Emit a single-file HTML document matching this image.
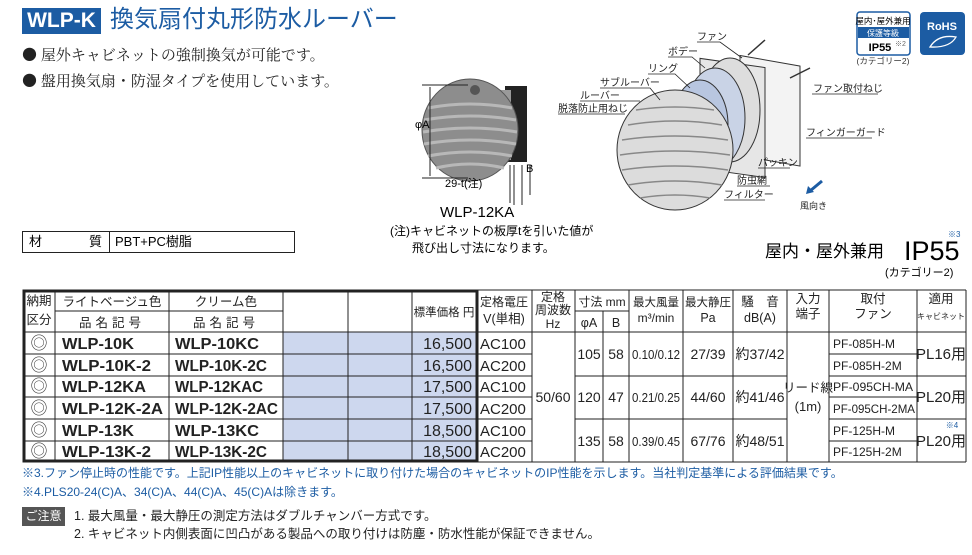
<!DOCTYPE html>
<html><head><meta charset="utf-8"><style>
html,body{margin:0;padding:0;background:#fff;}
body{width:972px;height:555px;position:relative;overflow:hidden;font-family:"Liberation Sans","Noto Sans CJK JP",sans-serif;}
.a{position:absolute;white-space:nowrap;}
</style></head><body>
<div class="a" style="left:22px;top:8px;width:79px;height:26px;background:#1c5ca3;color:#fff;font:bold 21px 'Liberation Sans',sans-serif;line-height:26px;text-align:center;">WLP-K</div>
<div class="a" style="left:110px;top:4px;color:#1c5ca3;font-size:24px;line-height:32px;font-family:'Liberation Sans','Noto Sans CJK JP',sans-serif;">換気扇付丸形防水ルーバー</div>
<div class="a" style="left:22px;top:44px;font-size:15px;line-height:22px;font-family:'Noto Serif CJK SC','Noto Serif CJK JP',serif;color:#222;">● 屋外キャビネットの強制換気が可能です。</div>
<div class="a" style="left:22px;top:70px;font-size:15px;line-height:22px;font-family:'Noto Serif CJK SC','Noto Serif CJK JP',serif;color:#222;">● 盤用換気扇・防湿タイプを使用しています。</div>

<div class="a" style="left:22px;top:231px;width:271px;height:20px;border:1px solid #222;font-size:13px;line-height:20px;">
<span style="position:absolute;left:6px;">材</span><span style="position:absolute;left:66px;">質</span>
<span style="position:absolute;left:86px;top:0;bottom:0;border-left:1px solid #222;padding-left:5px;">PBT+PC樹脂</span></div>

<svg class="a" style="left:0;top:0" width="972" height="290" viewBox="0 0 972 290">
<rect x="505" y="86" width="22" height="76" fill="#222"/>
<rect x="495" y="90" width="16" height="70" fill="#9a9a9a"/>
<ellipse cx="470" cy="130" rx="48" ry="51" fill="#8d8d8d" stroke="#555"/>
<g stroke="#b8b8b8" stroke-width="3" fill="none">
<path d="M428 108 Q470 100 512 108"/><path d="M424 120 Q470 112 516 120"/><path d="M423 132 Q470 124 517 132"/><path d="M424 144 Q470 136 516 144"/><path d="M428 156 Q470 148 512 156"/><path d="M436 168 Q470 160 504 168"/></g>
<circle cx="475" cy="90" r="5" fill="#555"/>
<g stroke="#222" stroke-width="1" fill="none"><path d="M422 85 H468 M422 178 H468 M430 87 V176"/><path d="M510 165 V203 M514 165 V205 M522 165 V205 M530 165 V195"/></g>
<text x="415" y="128" font-size="11">φA</text>
<text x="445" y="187" font-size="11">29-t(注)</text>
<text x="526" y="172" font-size="11">B</text>
<text x="440" y="217" font-size="15">WLP-12KA</text>
<text x="390" y="235" font-size="12">(注)キャビネットの板厚tを引いた値が</text>
<text x="412" y="252" font-size="12">飛び出し寸法になります。</text>
<g stroke="#333" fill="#eee">
<rect x="740" y="55" width="60" height="100" fill="#f3f3f3" transform="skewY(10) translate(0,-130)"/>
<rect x="700" y="60" width="65" height="110" fill="#e6e6e6" transform="skewY(8) translate(0,-100)"/>
<ellipse cx="730" cy="110" rx="30" ry="52" fill="#ddd"/>
<ellipse cx="715" cy="118" rx="30" ry="50" fill="#c9d3e6"/>
<ellipse cx="700" cy="125" rx="28" ry="45" fill="#b8c6e0"/>
<ellipse cx="675" cy="150" rx="58" ry="60" fill="#dcdcdc"/>
</g>
<g stroke="#888" stroke-width="1.5" fill="none">
<path d="M628 125 Q675 117 722 125"/><path d="M622 140 Q675 132 728 140"/><path d="M620 155 Q675 147 730 155"/><path d="M622 170 Q675 162 728 170"/><path d="M628 185 Q675 177 722 185"/><path d="M640 198 Q675 192 710 198"/><path d="M636 110 Q675 104 714 110"/></g>
<g stroke="#333" stroke-width="1.5"><line x1="748" y1="55" x2="765" y2="40"/><line x1="790" y1="78" x2="810" y2="68"/></g>
<g font-size="10" fill="#222">
<text x="697" y="40">ファン</text><text x="668" y="55">ボデー</text><text x="648" y="72">リング</text>
<text x="600" y="86">サブルーバー</text><text x="580" y="99">ルーバー</text><text x="558" y="112">脱落防止用ねじ</text>
<text x="813" y="92">ファン取付ねじ</text><text x="806" y="136">フィンガーガード</text>
<text x="758" y="166">パッキン</text><text x="737" y="184">防虫網</text><text x="724" y="198">フィルター</text>
<text x="800" y="209" font-size="9">風向き</text></g>
<g stroke="#222" fill="none" stroke-width="0.8"><path d="M697 42 H720 L742 58 M668 57 H692 L705 68 M648 74 H675 L690 88 M600 88 H650 L660 100 M580 101 H640 M558 114 H625 M812 94 H878 M806 138 H872 M758 168 H790 M737 186 H770 M724 200 H765"/></g>
<path d="M822 181 L810 191" stroke="#1c5ca3" stroke-width="3"/><path d="M806 194 L808 186 L814 192 Z" fill="#1c5ca3"/>
<rect x="857" y="12" width="53" height="43" rx="3" fill="#fff" stroke="#1c5ca3" stroke-width="1.5"/>
<rect x="858" y="27" width="51" height="11" fill="#1c5ca3"/>
<text x="883" y="24" font-size="8.5" text-anchor="middle">屋内･屋外兼用</text>
<text x="883" y="36" font-size="8" fill="#fff" text-anchor="middle">保護等級</text>
<text x="880" y="51" font-size="11" font-weight="bold" text-anchor="middle">IP55</text>
<text x="895" y="46" font-size="7" fill="#666">※2</text>
<text x="883" y="64" font-size="8.5" fill="#333" text-anchor="middle">(カテゴリー2)</text>
<rect x="920" y="12" width="45" height="43" rx="4" fill="#1c5ca3"/>
<text x="942" y="30" font-size="11" font-weight="bold" fill="#fff" text-anchor="middle">RoHS</text>
<path d="M930 47 Q938 34 956 37 Q950 48 930 47 Z" fill="none" stroke="#fff" stroke-width="1.3"/>
<text x="765" y="257" font-size="17">屋内・屋外兼用</text>
<text x="904" y="260" font-size="27">IP55</text>
<text x="948" y="237" font-size="8" fill="#1c5ca3">※3</text>
<text x="885" y="276" font-size="11">(カテゴリー2)</text>
</svg>

<svg class="a" style="left:0;top:280px" width="972" height="190" viewBox="0 280 972 190">
<rect x="283" y="332" width="194" height="130" fill="#cdd7ee"/>
<g stroke="#222" stroke-width="1" fill="none">
<line x1="478" y1="290" x2="966" y2="290"/><line x1="478" y1="462" x2="966" y2="462"/>
<line x1="966" y1="290" x2="966" y2="462"/>
<line x1="55" y1="311" x2="283" y2="311"/><line x1="23" y1="332" x2="966" y2="332"/>
<line x1="575" y1="311" x2="629" y2="311"/>
<line x1="23" y1="354" x2="477" y2="354"/><line x1="23" y1="376" x2="477" y2="376"/><line x1="23" y1="397" x2="477" y2="397"/><line x1="23" y1="419" x2="477" y2="419"/><line x1="23" y1="441" x2="477" y2="441"/>
<line x1="477" y1="354" x2="532" y2="354"/><line x1="477" y1="376" x2="532" y2="376"/><line x1="477" y1="397" x2="532" y2="397"/><line x1="477" y1="419" x2="532" y2="419"/><line x1="477" y1="441" x2="532" y2="441"/>
<line x1="829" y1="354" x2="917" y2="354"/><line x1="829" y1="376" x2="917" y2="376"/><line x1="829" y1="397" x2="917" y2="397"/><line x1="829" y1="419" x2="917" y2="419"/><line x1="829" y1="441" x2="917" y2="441"/>
<line x1="575" y1="376" x2="787" y2="376"/><line x1="575" y1="419" x2="787" y2="419"/>
<line x1="917" y1="376" x2="966" y2="376"/><line x1="917" y1="419" x2="966" y2="419"/>
<line x1="55" y1="290" x2="55" y2="462"/><line x1="169" y1="290" x2="169" y2="462"/><line x1="283" y1="290" x2="283" y2="462"/><line x1="348" y1="290" x2="348" y2="462"/><line x1="412" y1="290" x2="412" y2="462"/>
<line x1="532" y1="290" x2="532" y2="462"/><line x1="575" y1="290" x2="575" y2="462"/><line x1="603" y1="311" x2="603" y2="462"/><line x1="629" y1="290" x2="629" y2="462"/><line x1="683" y1="290" x2="683" y2="462"/><line x1="733" y1="290" x2="733" y2="462"/><line x1="787" y1="290" x2="787" y2="462"/><line x1="829" y1="290" x2="829" y2="462"/><line x1="917" y1="290" x2="917" y2="462"/>
</g>
<rect x="24" y="291" width="453" height="170" fill="none" stroke="#222" stroke-width="3"/>
<g font-size="12.5" fill="#222" text-anchor="middle">
<text x="39" y="305">納期</text><text x="39" y="324">区分</text>
<text x="112" y="306">ライトベージュ色</text><text x="112" y="327" letter-spacing="4">品名記号</text>
<text x="226" y="306">クリーム色</text><text x="226" y="327" letter-spacing="4">品名記号</text>
<text x="444" y="316" font-size="11.5">標準価格 円</text>
<text x="504" y="306" font-size="12">定格電圧</text><text x="504" y="323">V(単相)</text>
<text x="553" y="301" font-size="12">定格</text><text x="553" y="314" font-size="12">周波数</text><text x="553" y="328" font-size="12">Hz</text>
<text x="602" y="306" font-size="12">寸法 mm</text><text x="589" y="327">φA</text><text x="616" y="327">B</text>
<text x="656" y="306" font-size="11.5">最大風量</text><text x="656" y="322" font-size="12">m³/min</text>
<text x="708" y="306" font-size="11.5">最大静圧</text><text x="708" y="322">Pa</text>
<text x="760" y="306">騒　音</text><text x="760" y="322">dB(A)</text>
<text x="808" y="303">入力</text><text x="808" y="318">端子</text>
<text x="873" y="303">取付</text><text x="873" y="318">ファン</text>
<text x="941" y="303">適用</text><text x="941" y="319" font-size="8">キャビネット</text>
</g>
<g font-size="16" fill="#222">
<g font-size="17" text-anchor="middle" fill="#444"><text x="39" y="349">◎</text><text x="39" y="371">◎</text><text x="39" y="392">◎</text><text x="39" y="414">◎</text><text x="39" y="436">◎</text><text x="39" y="457">◎</text></g>
<g font-weight="bold" lengthAdjust="spacingAndGlyphs"><text x="62" y="349" textLength="72" lengthAdjust="spacingAndGlyphs">WLP-10K</text><text x="62" y="371" textLength="89" lengthAdjust="spacingAndGlyphs">WLP-10K-2</text><text x="62" y="392" textLength="84" lengthAdjust="spacingAndGlyphs">WLP-12KA</text><text x="62" y="414" textLength="101" lengthAdjust="spacingAndGlyphs">WLP-12K-2A</text><text x="62" y="436" textLength="72" lengthAdjust="spacingAndGlyphs">WLP-13K</text><text x="62" y="457" textLength="89" lengthAdjust="spacingAndGlyphs">WLP-13K-2</text>
<text x="175" y="349" textLength="84" lengthAdjust="spacingAndGlyphs">WLP-10KC</text><text x="175" y="371" textLength="92" lengthAdjust="spacingAndGlyphs">WLP-10K-2C</text><text x="175" y="392" textLength="88" lengthAdjust="spacingAndGlyphs">WLP-12KAC</text><text x="175" y="414" textLength="103" lengthAdjust="spacingAndGlyphs">WLP-12K-2AC</text><text x="175" y="436" textLength="84" lengthAdjust="spacingAndGlyphs">WLP-13KC</text><text x="175" y="457" textLength="92" lengthAdjust="spacingAndGlyphs">WLP-13K-2C</text></g>
<g text-anchor="end"><text x="472" y="349">16,500</text><text x="472" y="371">16,500</text><text x="472" y="392">17,500</text><text x="472" y="414">17,500</text><text x="472" y="436">18,500</text><text x="472" y="457">18,500</text></g>
<g font-size="15"><text x="480" y="349">AC100</text><text x="480" y="371">AC200</text><text x="480" y="392">AC100</text><text x="480" y="414">AC200</text><text x="480" y="436">AC100</text><text x="480" y="457">AC200</text></g>
</g>
<g font-size="14" fill="#222" text-anchor="middle">
<text x="553" y="402">50/60</text>
<text x="589" y="359">105</text><text x="616" y="359">58</text><text x="656" y="359" font-size="12.5" textLength="48" lengthAdjust="spacingAndGlyphs">0.10/0.12</text><text x="708" y="359">27/39</text><text x="760" y="359">約37/42</text>
<text x="589" y="402">120</text><text x="616" y="402">47</text><text x="656" y="402" font-size="12.5" textLength="48" lengthAdjust="spacingAndGlyphs">0.21/0.25</text><text x="708" y="402">44/60</text><text x="760" y="402">約41/46</text>
<text x="589" y="446">135</text><text x="616" y="446">58</text><text x="656" y="446" font-size="12.5" textLength="48" lengthAdjust="spacingAndGlyphs">0.39/0.45</text><text x="708" y="446">67/76</text><text x="760" y="446">約48/51</text>
<text x="808" y="392" font-size="12.5">リード線</text><text x="808" y="411" font-size="13">(1m)</text>
<text x="941" y="359" font-size="15">PL16用</text><text x="941" y="402" font-size="15">PL20用</text><text x="941" y="446" font-size="15">PL20用</text>
<text x="952" y="428" font-size="8" fill="#1c5ca3">※4</text>
</g>
<g font-size="12" fill="#222"><text x="833" y="348">PF-085H-M</text><text x="833" y="370">PF-085H-2M</text><text x="833" y="391" textLength="80" lengthAdjust="spacingAndGlyphs">PF-095CH-MA</text><text x="833" y="413" textLength="82" lengthAdjust="spacingAndGlyphs">PF-095CH-2MA</text><text x="833" y="435">PF-125H-M</text><text x="833" y="456">PF-125H-2M</text></g>
</svg>

<div class="a" style="left:22px;top:465px;font-size:12px;line-height:16px;color:#1c5ca3;">※3.ファン停止時の性能です。上記IP性能以上のキャビネットに取り付けた場合のキャビネットのIP性能を示します。当社判定基準による評価結果です。</div>
<div class="a" style="left:22px;top:484px;font-size:12px;line-height:16px;color:#1c5ca3;">※4.PLS20-24(C)A、34(C)A、44(C)A、45(C)Aは除きます。</div>
<div class="a" style="left:22px;top:507px;width:43px;height:19px;background:#555;color:#fff;font-size:12px;line-height:19px;text-align:center;">ご注意</div>
<div class="a" style="left:74px;top:507px;font-size:12.5px;line-height:18px;color:#222;">1. 最大風量・最大静圧の測定方法はダブルチャンバー方式です。<br>2. キャビネット内側表面に凹凸がある製品への取り付けは防塵・防水性能が保証できません。</div>
</body></html>
